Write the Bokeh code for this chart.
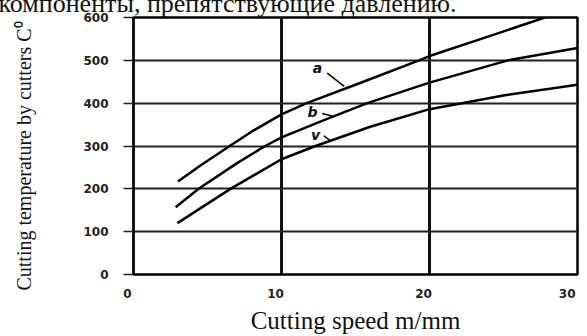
from bokeh.plotting import figure
from bokeh.models import Range1d, FixedTicker, Label
from bokeh.embed import file_html
from bokeh.resources import INLINE

# Data
a_x = [3.0, 4.5, 6.5, 8.0, 10.0, 11.7, 15.0, 19.3, 20.0, 24.0, 27.8]
a_y = [217, 254, 300, 334, 374, 400, 443, 500, 510, 556, 600]
b_x = [2.85, 4.4, 7.0, 8.9, 10.0, 13.0, 15.8, 20.0, 25.3, 30.0]
b_y = [157, 200, 260, 300, 320, 362, 400, 448, 500, 529]
v_x = [2.97, 6.55, 10.0, 12.3, 16.0, 20.0, 25.0, 30.0]
v_y = [120, 200, 269, 300, 345, 386, 418, 443]

x_ticks = [0, 10, 20, 30]
y_ticks = [0, 100, 200, 300, 400, 500, 600]
x_tick_labels = {t: f"{t}\u2003" for t in x_ticks}

curve_names = ["a", "b", "v"]
name_x = [12.43, 12.1, 12.3]
name_y = [483, 379, 326]
leader_x0 = [13.09, 12.75, 12.86]
leader_y0 = [470, 376, 324]
leader_x1 = [14.24, 13.42, 13.31]
leader_y1 = [439, 370, 312]

x_label = "Cutting speed m/mm"
y_label = "Cutting temperature by cutters C\u2070\u2003"
top_text = "компоненты, препятствующие давлению."

HIDDEN_TOP = 23
p = figure(width=587, height=336 + HIDDEN_TOP, output_backend="svg",
           toolbar_location=None,
           x_range=Range1d(0, 30), y_range=Range1d(0, 600),
           min_border_left=133, min_border_right=10,
           min_border_top=17 + HIDDEN_TOP, min_border_bottom=59,
           styles={"margin-top": f"-{HIDDEN_TOP}px"})
p.background_fill_color = "white"
p.border_fill_color = "white"
p.outline_line_color = "black"
p.outline_line_width = 2.5

p.title.text = top_text
p.title.text_font = "Liberation Serif"
p.title.text_font_style = "normal"
p.title.text_font_size = "26px"
p.title.text_color = "#111111"
p.title.align = "left"
p.title.offset = -135
p.title.standoff = 0

p.xaxis.ticker = FixedTicker(ticks=x_ticks)
p.xaxis.major_label_overrides = x_tick_labels
p.yaxis.ticker = FixedTicker(ticks=y_ticks)
p.xgrid.ticker = FixedTicker(ticks=[10, 20])
p.xgrid.grid_line_color = "#111111"
p.xgrid.grid_line_width = 3
p.ygrid.grid_line_color = "#222222"
p.ygrid.grid_line_width = 2

for ax in (p.xaxis, p.yaxis):
    ax.major_label_text_font = "DejaVu Sans"
    ax.major_label_text_font_style = "bold"
    ax.major_label_text_font_size = "12px"
    ax.major_label_text_color = "#222222"
    ax.minor_tick_line_color = None
    ax.axis_label_text_font = "Liberation Serif"
    ax.axis_label_text_font_style = "normal"
    ax.axis_label_text_color = "#111111"

p.xaxis.axis_line_color = None
p.xaxis.major_tick_line_color = None
p.xaxis.major_tick_out = 0
p.xaxis.major_tick_in = 0
p.xaxis.major_label_standoff = 12
p.xaxis.axis_label = x_label
p.xaxis.axis_label_text_font_size = "25px"
p.xaxis.axis_label_standoff = 3

p.yaxis.axis_line_color = "black"
p.yaxis.axis_line_width = 2
p.yaxis.major_tick_line_color = "#222222"
p.yaxis.major_tick_line_width = 1.5
p.yaxis.major_tick_out = 10
p.yaxis.major_tick_in = 0
p.yaxis.major_label_standoff = 15
p.yaxis.axis_label = y_label
p.yaxis.axis_label_text_font_size = "20px"
p.yaxis.axis_label_standoff = 45

for xs, ys in ((a_x, a_y), (b_x, b_y), (v_x, v_y)):
    p.line(xs, ys, line_color="black", line_width=2.5)

p.segment(x0=leader_x0, y0=leader_y0, x1=leader_x1, y1=leader_y1,
          line_color="black", line_width=1.5)
for n, x, y in zip(curve_names, name_x, name_y):
    p.add_layout(Label(x=x, y=y, text=n, text_font="DejaVu Sans",
                       text_font_style="bold italic", text_font_size="14px",
                       text_align="center", text_baseline="middle",
                       text_color="#111111"))

open("out.html", "w").write(file_html(p, INLINE))
